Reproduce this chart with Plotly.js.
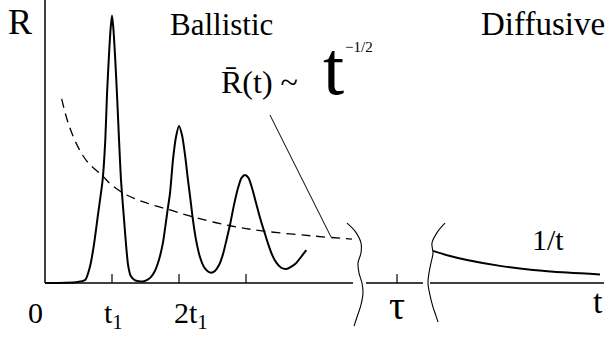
<!DOCTYPE html>
<html>
<head>
<meta charset="utf-8">
<script src="https://cdn.plot.ly/plotly-3.0.1.min.js"></script>
<style>
  html, body { margin: 0; padding: 0; background: #fff; }
  #chart { width: 608px; height: 337px; }
</style>
</head>
<body>
<div id="chart"></div>
<script>
// t is in units of t1, R is normalised to the first peak

// ballistic regime: oscillating reflection with peaks at t1, 2t1, 3t1
var ballT = [0, 0.30, 0.49, 0.60, 0.67, 0.73, 0.79, 0.86, 0.90, 0.925, 0.955, 0.98, 1.0,
    1.02, 1.045, 1.075, 1.105, 1.134, 1.18, 1.21, 1.24, 1.28, 1.34, 1.40, 1.46,
    1.52, 1.58, 1.64, 1.70, 1.76, 1.83, 1.866, 1.91, 1.955, 2.0, 2.045, 2.09, 2.134,
    2.172, 2.204, 2.254, 2.313, 2.373, 2.433, 2.478, 2.537, 2.597, 2.657, 2.709,
    2.761, 2.821, 2.881, 2.933, 2.985, 3.037, 3.09, 3.15, 3.21, 3.27, 3.33, 3.39,
    3.45, 3.52, 3.60, 3.67, 3.75, 3.82, 3.90];
var ballR = [0, 0.001, 0.004, 0.011, 0.060, 0.142, 0.254, 0.385, 0.535, 0.703, 0.852, 0.953, 1.0,
    0.953, 0.852, 0.703, 0.535, 0.385, 0.236, 0.142, 0.067, 0.026, 0.011, 0.007, 0.006,
    0.011, 0.022, 0.045, 0.086, 0.150, 0.273, 0.336, 0.460, 0.546, 0.587, 0.553, 0.479, 0.385,
    0.310, 0.243, 0.161, 0.097, 0.060, 0.043, 0.0385, 0.045, 0.067, 0.108, 0.161,
    0.217, 0.292, 0.355, 0.393, 0.404, 0.393, 0.355, 0.299, 0.243, 0.194, 0.146, 0.105,
    0.077, 0.058, 0.052, 0.060, 0.075, 0.097, 0.123];

// envelope R(t) ~ t^-1/2 (dashed)
var envT = [0.249, 0.35, 0.50, 0.646, 0.846, 0.996, 1.219, 1.518, 1.866, 2.209, 2.761, 3.269, 3.985, 4.582];
var envR = [0.688, 0.595, 0.505, 0.449, 0.404, 0.366, 0.329, 0.299, 0.273, 0.247, 0.214, 0.194, 0.176, 0.164];

// diffusive regime: 1/t tail
var diffT = [5.791, 6.045, 6.299, 6.791, 7.284, 7.791, 8.284];
var diffR = [0.120, 0.101, 0.086, 0.064, 0.049, 0.039, 0.032];

// pointer from the formula to the envelope
var ptrT = [3.358, 4.269];
var ptrR = [0.628, 0.172];

// broken time axis
var axisSegT = [[0, 4.597], [4.791, 5.642], [5.746, 8.343]];
var tickT = [1, 2, 3, 5.254];
var tickLabels = ['0', 't<sub>1</sub>', '2t<sub>1</sub>', '\u03c4', 't'];
var tickLabelT = [-0.149, 1.02, 2.18, 5.254, 8.25];
var tickH = 0.034;

// wavy break marks
var break1T = [4.507, 4.627, 4.716, 4.716, 4.672, 4.687, 4.731, 4.746, 4.716, 4.657, 4.612];
var break2T = [5.970, 5.866, 5.776, 5.791, 5.761, 5.731, 5.716, 5.746, 5.791, 5.836, 5.866];
var break1R = [0.224, 0.194, 0.150, 0.112, 0.075, 0.037, 0, -0.037, -0.082, -0.127, -0.161];
var break2R = [0.224, 0.194, 0.150, 0.112, 0.075, 0.037, 0, -0.045, -0.090, -0.123, -0.146];

var serif = 'Liberation Serif';
var traces = [];

function line(x, y, w, extra) {
    var tr = {
        x: x, y: y, type: 'scatter', mode: 'lines', hoverinfo: 'skip', showlegend: false,
        line: Object.assign({color: '#000', width: w}, extra || {})
    };
    traces.push(tr);
}

// axes
line([0, 0], [0, 1.06], 1.5);
axisSegT.forEach(function(s) { line(s, [0, 0], 1.5); });
tickT.forEach(function(t) { line([t, t], [0, tickH], 1.2); });

line(ballT, ballR, 2, {shape: 'spline', smoothing: 0.6});
line(envT, envR, 1.3, {shape: 'spline', dash: '9px,6px'});
line(ptrT, ptrR, 1);
line(diffT, diffR, 2, {shape: 'spline'});
line(break1T, break1R, 1.1, {shape: 'spline'});
line(break2T, break2R, 1.1, {shape: 'spline'});

var annotations = [];
function label(text, x, y, size, xanchor) {
    annotations.push({
        text: text, x: x, y: y, xref: 'x', yref: 'y', showarrow: false,
        xanchor: xanchor || 'center', yanchor: 'middle',
        font: {family: serif, size: size, color: '#000'}
    });
}

var tickLabelR = [-0.11, -0.12, -0.12, -0.085, -0.07];
var tickLabelSize = [30, 30, 30, 40, 34];
tickLabels.forEach(function(txt, i) {
    label(txt, tickLabelT[i], tickLabelR[i], tickLabelSize[i]);
});
label('R', -0.373, 0.975, 36);
label('Ballistic', 2.627, 0.965, 31);
label('Diffusive', 7.433, 0.968, 33);
label('R\u0304(t) ~', 2.60, 0.752, 32, 'left');
label('t', 4.30, 0.805, 76, 'center');
label('\u22121/2', 4.69, 0.882, 15, 'center');
label('1/t', 7.507, 0.161, 30);

var layout = {
    width: 608, height: 337,
    margin: {l: 0, r: 0, t: 0, b: 0},
    paper_bgcolor: '#fff', plot_bgcolor: '#fff',
    xaxis: {range: [-0.6716, 8.403], visible: false, fixedrange: true},
    yaxis: {range: [-0.2019, 1.0579], visible: false, fixedrange: true},
    annotations: annotations,
    showlegend: false
};

Plotly.newPlot('chart', traces, layout, {staticPlot: true});
</script>
</body>
</html>
